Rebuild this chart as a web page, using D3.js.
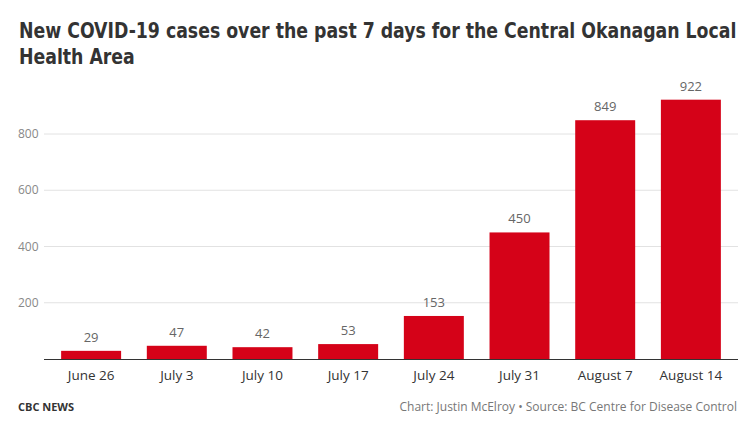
<!DOCTYPE html>
<html>
<head>
<meta charset="utf-8">
<script src="https://cdn.jsdelivr.net/npm/d3@7"></script>
<style>
  body { margin: 0; background: #fff; }
  text { font-family: "Open Sans", "Noto Sans", sans-serif; }
</style>
</head>
<body>
<script>
const weeks = ["June 26", "July 3", "July 10", "July 17", "July 24", "July 31", "August 7", "August 14"];
const cases = [29, 47, 42, 53, 153, 450, 849, 922];
const yTicks = [200, 400, 600, 800];
const titleLines = ["New COVID-19 cases over the past 7 days for the Central Okanagan Local", "Health Area"];
const brand = "CBC NEWS";
const credit = "Chart: Justin McElroy \u2022 Source: BC Centre for Disease Control";

const w = 754;
const h = 423;
const margin = { left: 44, right: 16, top: 100, bottom: 64 };

const svg = d3.select("body")
  .append("svg")
  .attr("width", w)
  .attr("height", h);

// Title - bold, squeezed horizontally to the reference's width
const titleG = svg.append("g");
const title = titleG.append("text")
  .attr("x", 0)
  .attr("y", 38)
  .style("font-family", "'DejaVu Sans Condensed', 'DejaVu Sans', sans-serif")
  .style("font-stretch", "condensed")
  .style("font-weight", "bold")
  .style("font-size", "21px")
  .attr("fill", "#333");

const spans = title.selectAll("tspan")
  .data(titleLines)
  .enter()
  .append("tspan")
  .attr("x", 0)
  .attr("dy", (d, i) => i === 0 ? 0 : 26)
  .text(d => d);

const firstLen = spans.nodes()[0].getComputedTextLength();
const squeeze = Math.min(1, 718 / firstLen);
titleG.attr("transform", `translate(19,0) scale(${squeeze},1)`);

// Scales
const x = d3.scaleBand()
  .domain(weeks)
  .range([margin.left, w - margin.right])
  .paddingInner(0.3)
  .paddingOuter(0.2);

const y = d3.scaleLinear()
  .domain([0, 800])
  .range([h - margin.bottom, 134]);

// Gridlines
svg.append("g")
  .selectAll("line")
  .data(yTicks)
  .enter()
  .append("line")
  .attr("x1", margin.left)
  .attr("x2", w - margin.right)
  .attr("y1", d => y(d))
  .attr("y2", d => y(d))
  .attr("stroke", "#e2e2e2")
  .attr("stroke-width", 1);

// Y axis labels
svg.append("g")
  .selectAll("text")
  .data(yTicks)
  .enter()
  .append("text")
  .attr("x", 18)
  .attr("y", d => y(d) + 4)
  .style("font-size", "12px")
  .attr("fill", "#888")
  .text(d => d);

// Bars
svg.append("g")
  .selectAll("rect")
  .data(cases)
  .enter()
  .append("rect")
  .attr("x", (d, i) => x(weeks[i]))
  .attr("y", d => y(d))
  .attr("width", x.bandwidth())
  .attr("height", d => y(0) - y(d))
  .attr("fill", "#d50218");

// Value labels
svg.append("g")
  .selectAll("text")
  .data(cases)
  .enter()
  .append("text")
  .attr("x", (d, i) => x(weeks[i]) + x.bandwidth() / 2)
  .attr("y", d => y(d) - 9)
  .attr("text-anchor", "middle")
  .style("font-size", "13px")
  .attr("fill", "#666")
  .text(d => d);

// X axis
const xAxis = d3.axisBottom(x).tickSize(0).tickPadding(11);
const gx = svg.append("g")
  .attr("transform", `translate(0, ${y(0)})`)
  .call(xAxis);
gx.select(".domain")
  .attr("stroke", "#333")
  .attr("d", `M${margin.left},0.5H${w - margin.right}`);
gx.selectAll("text")
  .style("font-family", "'Open Sans', sans-serif")
  .style("font-size", "13.5px")
  .attr("fill", "#333");

// Footer
svg.append("text")
  .attr("x", 18)
  .attr("y", 411)
  .style("font-size", "11px")
  .style("font-weight", "bold")
  .attr("fill", "#333")
  .text(brand);

svg.append("text")
  .attr("x", w - 17)
  .attr("y", 411)
  .attr("text-anchor", "end")
  .style("font-size", "12px")
  .attr("fill", "#777")
  .text(credit);
</script>
</body>
</html>
